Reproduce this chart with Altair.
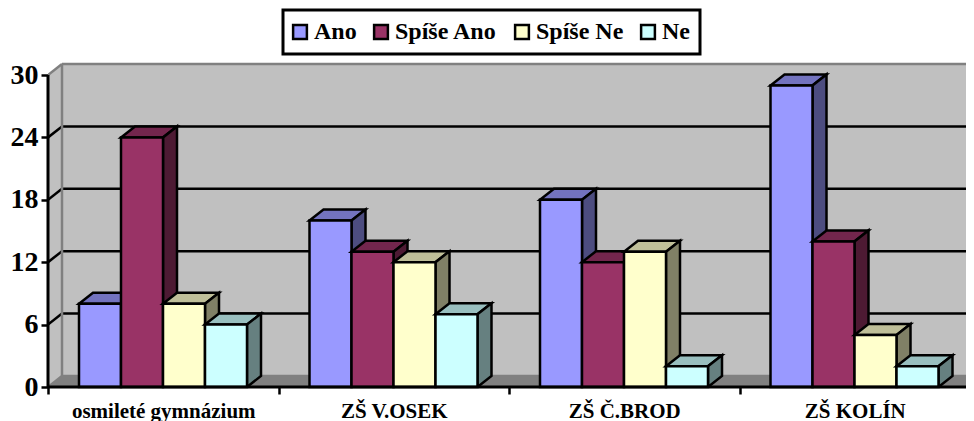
import json
import altair as alt
import pandas as pd

categories = ["osmileté gymnázium", "ZŠ V.OSEK", "ZŠ Č.BROD", "ZŠ KOLÍN"]
series = ["Ano", "Spíše Ano", "Spíše Ne", "Ne"]
ano = [8, 16, 18, 29]
spise_ano = [24, 13, 12, 14]
spise_ne = [8, 12, 13, 5]
ne = [6, 7, 2, 2]
values = [ano, spise_ano, spise_ne, ne]
y_ticks = [0, 6, 12, 18, 24, 30]

front = ["#9999FF", "#993366", "#FFFFCC", "#CCFFFF"]
side = ["#4D4D80", "#4D1A33", "#808066", "#668080"]
top = ["#7373BF", "#73264D", "#BFBF99", "#99BFBF"]
WALL, EDGE = "#C0C0C0", "#808080"
SERIF = "Liberation Serif"

PW, PH = 918, 327
CAT_PX, UNIT_PX = 230.5, 10.4
X_MAX, Y_MAX = PW / CAT_PX, PH / UNIT_PX
DX, DY = 14 / CAT_PX, 11 / UNIT_PX
BAR_W, GAP = 42 / CAT_PX, 31 / CAT_PX
LW = 2.5

xs = alt.Scale(domain=[0, X_MAX], nice=False, zero=False)
ys = alt.Scale(domain=[0, Y_MAX], nice=False, zero=False)
X = lambda f="x", **k: alt.X(f"{f}:Q", scale=xs, title=None, **k)
Y = lambda f="y", **k: alt.Y(f"{f}:Q", scale=ys, title=None, stack=None, **k)


def poly(rows, fill, stroke=None, sw=LW):
    kw = {"stroke": stroke, "strokeWidth": sw} if stroke else {}
    return (
        alt.Chart(pd.DataFrame(rows))
        .mark_area(orient="vertical", fill=fill, opacity=1, clip=True, **kw)
        .encode(x=X(), y=Y(), y2="y2:Q", detail="id:N")
    )


def rules(rows, color, sw=LW, clip=True):
    return (
        alt.Chart(pd.DataFrame(rows))
        .mark_rule(color=color, strokeWidth=sw, clip=clip)
        .encode(x=X(), x2="x2:Q", y=Y(), y2="y2:Q")
    )


layers = []
# back wall, left wall, floor
layers.append(poly([
    {"id": 0, "x": DX, "y": DY, "y2": 30 + DY},
    {"id": 0, "x": X_MAX, "y": DY, "y2": 30 + DY},
], WALL))
layers.append(poly([
    {"id": 0, "x": 0, "y": 0, "y2": 30},
    {"id": 0, "x": DX, "y": DY, "y2": 30 + DY},
], WALL))
layers.append(poly([
    {"id": 0, "x": 0, "y": 0, "y2": 0},
    {"id": 0, "x": DX, "y": 0, "y2": DY},
    {"id": 0, "x": X_MAX, "y": 0, "y2": DY},
], EDGE))

# gridlines on the wall
inner = [t for t in y_ticks if 0 < t < 30]
layers.append(rules(
    [{"x": DX, "x2": X_MAX, "y": t + DY, "y2": t + DY} for t in inner]
    + [{"x": 0, "x2": DX, "y": t, "y2": t + DY} for t in inner],
    "black",
))
layers.append(rules(
    [{"x": DX, "x2": X_MAX, "y": t + DY, "y2": t + DY} for t in (0, 30)]
    + [{"x": 0, "x2": DX, "y": 30, "y2": 30 + DY},
       {"x": DX, "x2": DX, "y": DY, "y2": 30 + DY},
       {"x": 0, "x2": DX, "y": 0, "y2": DY}],
    EDGE,
))

# bars, left to right so each hides the side of the one before
for s, name in enumerate(series):
    tops, sides, fronts = [], [], []
    for c in range(len(categories)):
        v = values[s][c]
        x0 = c + GAP + s * BAR_W
        x1 = x0 + BAR_W
        for x, lo, hi in [(x0, v, v), (x0 + DX, v, v + DY), (x1, v, v + DY), (x1 + DX, v + DY, v + DY)]:
            tops.append({"id": c, "x": x, "y": lo, "y2": hi})
        sides.append({"id": c, "x": x1, "y": 0, "y2": v})
        sides.append({"id": c, "x": x1 + DX, "y": DY, "y2": v + DY})
        fronts.append({"x": x0, "x2": x1, "y": 0, "y2": v, "series": name})
    layers.append(poly(tops, top[s], "black"))
    layers.append(poly(sides, side[s], "black"))
    layers.append(
        alt.Chart(pd.DataFrame(fronts))
        .mark_bar(stroke="black", strokeWidth=LW, opacity=1)
        .encode(
            x=X(),
            x2="x2:Q",
            y=Y(),
            y2="y2:Q",
            color=alt.Color(
                "series:N",
                scale=alt.Scale(domain=series, range=front),
                legend=alt.Legend(
                    title=None,
                    orient="none",
                    legendX=235,
                    legendY=-50,
                    direction="horizontal",
                    columns=4,
                    symbolType="square",
                    symbolSize=190,
                    symbolStrokeColor="black",
                    symbolStrokeWidth=2.5,
                    symbolOpacity=1,
                    symbolOffset=-5,
                    labelFont=SERIF,
                    labelFontWeight="bold",
                    labelFontSize=24,
                    labelColor="black",
                    labelOffset=2,
                    labelLimit=200,
                    columnPadding=12,
                    padding=10,
                    fillColor="white",
                    strokeColor="black",
                ),
            ),
        )
    )

# front axis lines
layers.append(rules(
    [{"x": 0, "x2": 0, "y": 0, "y2": 30}, {"x": 0, "x2": X_MAX, "y": 0, "y2": 0}],
    "black", 3, clip=False,
))

# axes
label_js = json.dumps(categories, ensure_ascii=False)
axis_layer = alt.Chart(pd.DataFrame({"x": [0.0], "y": [0.0]})).mark_point(opacity=0).encode(
    x=alt.X("x:Q", scale=xs, title=None, axis=alt.Axis(
        values=[i / 2 for i in range(8)],
        domain=False, grid=False, ticks=True, tickSize=7, tickWidth=LW, tickColor="black",
        tickOpacity={"condition": {"test": "datum.value % 1 == 0", "value": 1}, "value": 0},
        labelExpr=f"datum.value % 1 == 0 ? '' : {label_js}[floor(datum.value)]",
        labelFont=SERIF, labelFontWeight="bold", labelFontSize=21, labelColor="black",
        labelPadding=6, labelAngle=0, labelOverlap=False, labelFlush=False, labelLimit=320,
    )),
    y=alt.Y("y:Q", scale=ys, title=None, axis=alt.Axis(
        values=y_ticks,
        domain=False, grid=False, ticks=True, tickSize=7, tickWidth=LW, tickColor="black",
        labelFont=SERIF, labelFontWeight="bold", labelFontSize=28, labelColor="black",
        labelPadding=3, labelOverlap=False,
    )),
)
layers.insert(0, axis_layer)

chart = (
    alt.layer(*layers)
    .properties(
        width=PW,
        height=PH,
        background="white",
        padding={"left": 40, "top": 52, "right": 0, "bottom": 34},
        autosize=alt.AutoSizeParams(type="none"),
    )
    .configure_view(stroke=None)
    .configure_legend(strokeWidth=3)
)

chart.save("out.html", embed_options={"renderer": "svg", "actions": False})
